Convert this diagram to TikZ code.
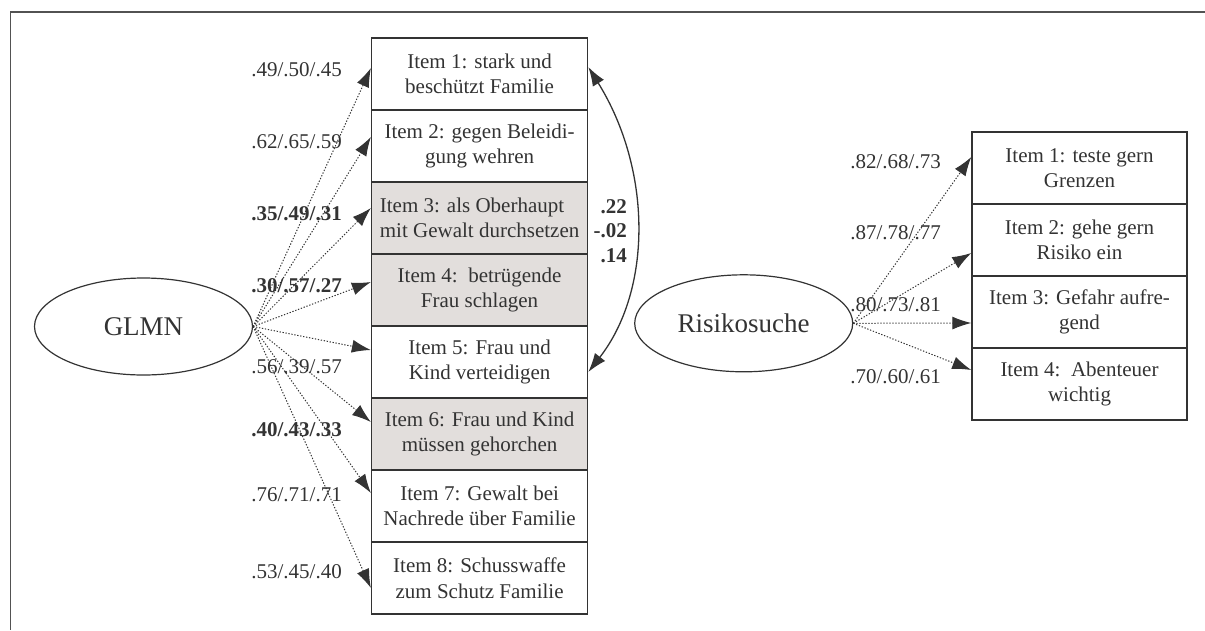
\documentclass[tikz,border=0pt]{standalone}
\usepackage{fontspec}
\setmainfont{Liberation Serif}
\usetikzlibrary{arrows.meta,shapes.geometric}
\definecolor{ink}{HTML}{333333}
\definecolor{boxgray}{HTML}{E2DEDC}
\begin{document}
\begin{tikzpicture}[x=1pt,y=-1pt,
  every node/.style={font=\fontsize{21}{25.5}\selectfont, text=ink},
  itembox/.style={draw=ink, line width=1.4pt, minimum width=216pt, minimum height=72pt, inner sep=0pt, align=center},
  grayitem/.style={itembox, fill=boxgray},
  latent/.style={ellipse, draw=ink, line width=1.2pt, minimum width=218pt, minimum height=97pt, inner sep=0pt, font=\fontsize{27}{30}\selectfont},
  load/.style={draw=ink, line width=1pt, dash pattern=on 1.3pt off 1.7pt, -{Latex[length=19pt,width=13pt]}},
  coef/.style={anchor=east, inner sep=0pt},
  bcoef/.style={coef, font=\fontsize{21}{24.7}\selectfont\bfseries},
  dbl/.style={draw=ink, line width=1.3pt, {Latex[length=19pt,width=13pt]}-{Latex[length=19pt,width=13pt]}},
  frame/.style={draw=ink!85, line width=1.6pt}
]
\useasboundingbox (0,0) rectangle (1205,630);
\draw[frame] (1205,12) -- (10.5,12) -- (10.5,630);

% GLMN item boxes
\node[itembox] (i1) at (479.6,74) {Item 1: stark und\\beschützt Familie};
\node[itembox] (i2) at (479.6,146) {Item 2: gegen Beleidi-\\gung wehren};
\node[grayitem, align=left] (i3) at (479.6,218) {Item 3: als Oberhaupt\\mit Gewalt durchsetzen};
\node[grayitem] (i4) at (479.6,290) {Item 4:\ \ betrügende\\Frau schlagen};
\node[itembox] (i5) at (479.6,362) {Item 5: Frau und\\Kind verteidigen};
\node[grayitem] (i6) at (479.6,434) {Item 6: Frau und Kind\\müssen gehorchen};
\node[itembox] (i7) at (479.6,506) {Item 7: Gewalt bei\\Nachrede über Familie};
\node[itembox] (i8) at (479.6,578) {Item 8: Schusswaffe\\zum Schutz Familie};

% Risikosuche item boxes
\node[itembox, minimum width=215pt] (r1) at (1079.5,168) {Item 1: teste gern\\Grenzen};
\node[itembox, minimum width=215pt] (r2) at (1079.5,240) {Item 2: gehe gern\\Risiko ein};
\node[itembox, minimum width=215pt] (r3) at (1079.5,312) {Item 3: Gefahr aufre-\\gend};
\node[itembox, minimum width=215pt] (r4) at (1079.5,384) {Item 4:\ \ Abenteuer\\wichtig};

% latent variables
\node[latent] (glmn) at (143.5,326.5) {GLMN};
\node[latent] (risk) at (743.7,323.3) {Risikosuche};

% loadings GLMN
\draw[load] (glmn.east) -- ([yshift=6pt]i1.west);
\draw[load] (glmn.east) -- ([yshift=9pt]i2.west);
\draw[load] (glmn.east) -- ([yshift=10pt]i3.west);
\draw[load] (glmn.east) -- ([yshift=8pt]i4.west);
\draw[load] (glmn.east) -- ([yshift=12pt]i5.west);
\draw[load] (glmn.east) -- ([yshift=12pt]i6.west);
\draw[load] (glmn.east) -- ([yshift=13pt]i7.west);
\draw[load] (glmn.east) -- ([yshift=-10pt]i8.west);

% loadings Risikosuche
\draw[load] (risk.east) -- ([yshift=11pt]r1.west);
\draw[load] (risk.east) -- ([yshift=-13pt]r2.west);
\draw[load] (risk.east) -- ([yshift=-11pt]r3.west);
\draw[load] (risk.east) -- ([yshift=14pt]r4.west);

% correlated errors
\draw[dbl] ([yshift=7pt]i1.east) .. controls +(64,103) and +(64,-82) .. ([yshift=-10pt]i5.east);
\node[bcoef, align=right] (corr) at (627,231) {.22\\-.02\\.14};

% coefficient labels GLMN
\node[coef] (l1) at (342,70) {.49/.50/.45};
\node[coef] (l2) at (342,141.7) {.62/.65/.59};
\node[bcoef] (l3) at (342,213.3) {.35/.49/.31};
\node[bcoef] (l4) at (342,286) {.30/.57/.27};
\node[coef] (l5) at (342,367) {.56/.39/.57};
\node[bcoef] (l6) at (342,430) {.40/.43/.33};
\node[coef] (l7) at (342,495) {.76/.71/.71};
\node[coef] (l8) at (342,572) {.53/.45/.40};

% coefficient labels Risikosuche
\node[coef] (m1) at (941,162) {.82/.68/.73};
\node[coef] (m2) at (941,233) {.87/.78/.77};
\node[coef] (m3) at (941,305) {.80/.73/.81};
\node[coef] (m4) at (941,377) {.70/.60/.61};
\end{tikzpicture}
\end{document}
